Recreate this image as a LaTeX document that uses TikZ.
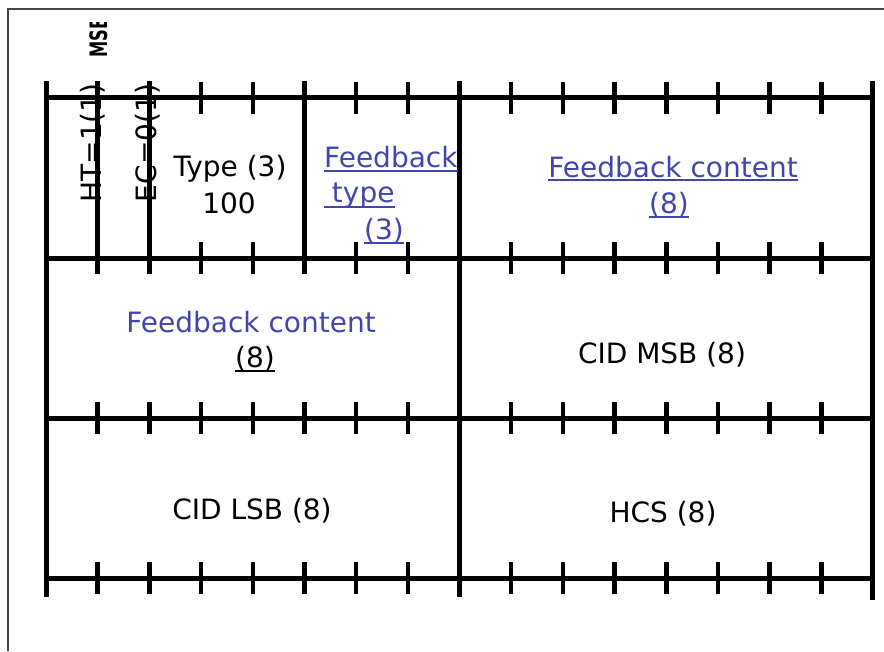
\documentclass[tikz,border=0pt]{standalone}
\usepackage{fontspec}
\setmainfont{DejaVu Sans}
\definecolor{fbblue}{RGB}{66,70,172}
\definecolor{framegray}{RGB}{70,70,70}
\begin{document}
\begin{tikzpicture}[x=1pt,y=-1pt,
  bar/.style={line width=5pt, line cap=butt},
  tickmark/.style={line width=4.5pt, line cap=butt},
  frameline/.style={line width=1.5pt, framegray},
  lbl/.style={font=\fontsize{28}{34}\selectfont, inner sep=0pt},
  blbl/.style={lbl, text=fbblue},
  uline/.style={line width=1.8pt, fbblue},
  ulineblack/.style={line width=1.8pt, black}]
\useasboundingbox (0,0) rectangle (884,651);
% outer frame
\draw[frameline] (8,651) -- (8,9) -- (884,9);
% horizontal row lines with ticks
\foreach \y in {97.5,258,418,578}{
  \draw[bar] (46,\y) -- (872,\y);
  \foreach \i in {1,...,15}{
    \draw[tickmark] ({46+51.6875*\i},{\y-16}) -- ({46+51.6875*\i},{\y+16});
  }
}
% vertical lines
\draw[bar] (46,81) -- (46,597);
\draw[bar] (872,81) -- (872,600);
\draw[bar] ({46+51.6875*8},81) -- ({46+51.6875*8},597);
\foreach \i in {1,2,5}{
  \draw[bar] ({46+51.6875*\i},81) -- ({46+51.6875*\i},274);
}
% MSB label (clipped at the top)
\begin{scope}
  \clip (0,22) rectangle (884,651);
  \node[rotate=90, anchor=west, inner sep=0pt, font=\fontsize{24}{28}\selectfont\bfseries] (msb) at (99,58) {\scalebox{0.68}[1]{MSB}};
\end{scope}
% rotated single bit fields
\node[lbl, rotate=90] (ht) at (93,143) {HT=1(1)};
\node[lbl, rotate=90] (ec) at (148,143) {EC=0(1)};
% Type
\node[lbl, anchor=base] (type) at (230,176) {Type (3)};
\node[lbl, anchor=base] (typeval) at (229,213) {100};
% Feedback type
\node[blbl, anchor=base west] (fbt1) at (324,167) {Feedback};
\node[blbl, anchor=base west] (fbt2) at (324,202) {\hphantom{i}type};
\node[blbl, anchor=base west] (fbt3) at (364,239) {(3)};
\draw[uline] ([yshift=-4pt]fbt1.base west) -- ([yshift=-4pt]fbt1.base east);
\draw[uline] ([yshift=-5pt]fbt2.base west) -- ([yshift=-5pt]fbt2.base east);
\draw[uline] ([yshift=-4pt]fbt3.base west) -- ([yshift=-4pt]fbt3.base east);
% Feedback content row 1
\node[blbl, anchor=base] (fc1) at (673,177) {Feedback content};
\node[blbl, anchor=base] (fc1n) at (669,213) {(8)};
\draw[uline] ([yshift=-3pt]fc1.base west) -- ([yshift=-3pt]fc1.base east);
\draw[uline] ([yshift=-4pt]fc1n.base west) -- ([yshift=-4pt]fc1n.base east);
% Feedback content row 2
\node[blbl, anchor=base] (fc2) at (251,332) {Feedback content};
\node[lbl, anchor=base] (fc2n) at (255,367) {(8)};
\draw[ulineblack] ([yshift=-4pt]fc2n.base west) -- ([yshift=-4pt]fc2n.base east);
% CID MSB
\node[lbl, anchor=base] (cidmsb) at (662,363) {CID MSB (8)};
% CID LSB
\node[lbl, anchor=base] (cidlsb) at (252,519) {CID LSB (8)};
% HCS
\node[lbl, anchor=base] (hcs) at (663,522) {HCS (8)};
\end{tikzpicture}
\end{document}
